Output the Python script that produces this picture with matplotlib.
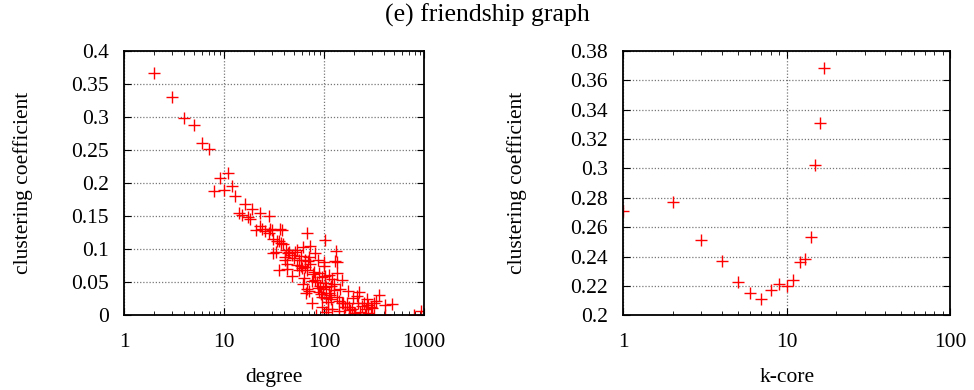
import matplotlib
matplotlib.use("Agg")
import matplotlib.pyplot as plt
from matplotlib.ticker import LogLocator, FixedLocator, NullFormatter, FuncFormatter

plt.rcParams['font.family'] = ['Liberation Serif', 'DejaVu Serif']
plt.rcParams['mathtext.fontset'] = 'stix'

# clustering coefficient vs. degree
degree = [2, 3, 4, 5, 6, 7, 8, 9, 10, 11, 12, 13, 14, 15, 16, 17.5, 18, 19, 21, 22.7,
          23, 24, 25.8, 28, 27.8, 29, 30, 31, 33, 34, 35, 36.6, 37, 38, 39, 41, 42, 43,
          44, 45, 47.6, 51, 53, 54, 56, 59, 62, 65, 66, 68, 68, 70, 69, 73, 75, 76,
          81, 81, 83, 85, 86, 86, 89, 95, 95, 96, 99, 101, 101, 102, 104, 105, 105,
          110, 112, 116, 117, 119, 121, 126, 127, 131, 133, 134, 134, 145, 150, 150,
          155, 157, 170, 172, 176, 190, 192, 204, 214, 220, 224, 237, 249, 254, 260,
          277, 277, 295, 313, 313, 333, 354, 404, 404, 477, 788, 920,
          31, 35.5, 47.6, 41, 43, 56, 67.6, 99, 64, 80, 72, 77, 60, 90, 115, 140, 160,
          50, 58, 63, 92, 108, 125, 180, 230, 265, 300, 62, 71, 88, 98, 112, 140, 200]
clust_deg = [0.367, 0.330, 0.298, 0.288, 0.261, 0.252, 0.188, 0.208, 0.190, 0.2156, 0.195,
             0.181, 0.155, 0.152, 0.168, 0.148, 0.145, 0.160, 0.129, 0.154,
             0.135, 0.130, 0.127, 0.150, 0.125, 0.131, 0.129, 0.115, 0.096, 0.112, 0.113,
             0.130, 0.109, 0.129, 0.108, 0.084, 0.098, 0.077,
             0.094, 0.096, 0.091, 0.096, 0.099, 0.076, 0.083, 0.090, 0.104, 0.084, 0.033,
             0.124, 0.040, 0.088, 0.082, 0.105, 0.019, 0.052,
             0.094, 0.053, 0.000, 0.050, 0.084, 0.042, 0.035, 0.058, 0.012, 0.028, 0.074,
             0.060, 0.049, 0.114, 0.026, 0.043, 0.005,
             0.010, 0.061, 0.024, 0.045, 0.009, 0.055, 0.039, 0.082, 0.097, 0.028, 0.080,
             0.064, 0.040, 0.053, 0.019,
             0.018, 0.000, 0.018, 0.037, 0.013, 0.009, 0.026, 0.003, 0.029, 0.019, 0.035,
             0.014, 0.018, 0.000, 0.010,
             0.016, 0.003, 0.012, 0.019, 0.000, 0.022, 0.030, 0.016, 0.001, 0.017, 0.000,
             0.007,
             0.094, 0.069, 0.060, 0.088, 0.070, 0.068, 0.069, 0.080, 0.073, 0.066, 0.078,
             0.062, 0.071, 0.045, 0.030, 0.022, 0.012,
             0.086, 0.074, 0.056, 0.032, 0.020, 0.048, 0.008, 0.005, 0.024, 0.011, 0.047,
             0.036, 0.064, 0.040, 0.033, 0.006, 0.004]

# clustering coefficient vs. k-core
kcore = [1, 2, 3, 4, 5, 6, 7, 8, 9, 10, 11, 12, 13, 14, 15, 16, 17]
clust_k = [0.271, 0.277, 0.251, 0.237, 0.223, 0.215, 0.211, 0.217, 0.2215, 0.220,
           0.224, 0.236, 0.238, 0.253, 0.302, 0.331, 0.368]

fig = plt.figure(figsize=(9.74, 3.9), dpi=100)
ax1 = fig.add_axes([0.1273, 0.1915, 0.3083, 0.6785])
ax2 = fig.add_axes([0.640, 0.1915, 0.3354, 0.6785])

fs = 15.5
mk = dict(marker='+', color='#ff0000', linestyle='none', markersize=8, markeredgewidth=1.0)


def fmt_plain(v, pos):
    return '%g' % v


def style(ax):
    ax.set_xscale('log')
    ax.grid(True, which='major', linestyle=(0, (1, 1.5)), color='#777777', linewidth=0.9)
    ax.tick_params(which='both', direction='in', top=True, right=True, labelsize=fs)
    ax.tick_params(axis='y', pad=11)
    ax.tick_params(axis='x', pad=13)
    ax.tick_params(which='major', length=5)
    ax.tick_params(which='minor', length=3)
    ax.xaxis.set_major_formatter(FuncFormatter(fmt_plain))
    ax.xaxis.set_minor_locator(LogLocator(base=10, subs=range(2, 10)))
    ax.xaxis.set_minor_formatter(NullFormatter())
    for s in ax.spines.values():
        s.set_linewidth(1.3)


ax1.plot(degree, clust_deg, **mk)
style(ax1)
ax1.set_xlim(1, 1000)
ax1.set_ylim(0, 0.4)
ax1.xaxis.set_major_locator(FixedLocator([1, 10, 100, 1000]))
ax1.yaxis.set_major_locator(FixedLocator([0, 0.05, 0.1, 0.15, 0.2, 0.25, 0.3, 0.35, 0.4]))
ax1.yaxis.set_major_formatter(FuncFormatter(fmt_plain))
ax1.set_xlabel('degree', fontsize=fs, labelpad=11)
ax1.set_ylabel('clustering coefficient', fontsize=fs)
ax1.yaxis.set_label_coords(-0.303, 0.5)

ax2.plot(kcore, clust_k, **mk)
style(ax2)
ax2.set_xlim(1, 100)
ax2.set_ylim(0.2, 0.38)
ax2.xaxis.set_major_locator(FixedLocator([1, 10, 100]))
ax2.yaxis.set_major_locator(FixedLocator([0.2, 0.22, 0.24, 0.26, 0.28, 0.3, 0.32, 0.34, 0.36, 0.38]))
ax2.yaxis.set_major_formatter(FuncFormatter(lambda v, p: '%g' % round(v, 2)))
ax2.set_xlabel('k-core', fontsize=fs, labelpad=11)
ax2.set_ylabel('clustering coefficient', fontsize=fs)
ax2.yaxis.set_label_coords(-0.295, 0.5)

fig.text(0.5, 0.99, '(e) friendship graph', ha='center', va='top', fontsize=18.5)

fig.savefig('out.png', dpi=100)
